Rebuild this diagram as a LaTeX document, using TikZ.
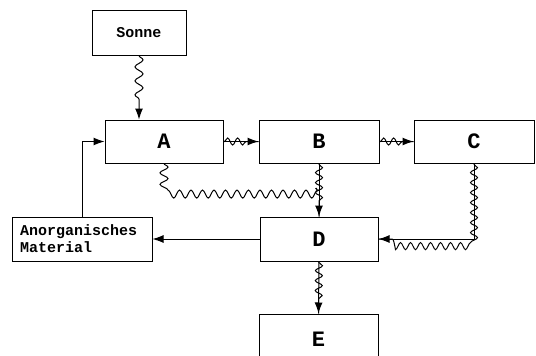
\documentclass[tikz,border=0pt]{standalone}
\usepackage{fontspec}
\setmonofont{Liberation Mono}
\usetikzlibrary{decorations.pathmorphing,arrows.meta}

\begin{document}
\begin{tikzpicture}[
  x=1pt, y=-1pt,
  box/.style={rectangle, draw, line width=1pt, minimum height=43pt, inner sep=0pt,
              font=\ttfamily\bfseries\fontsize{22}{24}\selectfont},
  sbox/.style={box, font=\ttfamily\bfseries\fontsize{15}{17}\selectfont},
  arr/.style={-{Latex[length=11pt,width=8pt]}, line width=1pt},
  wave/.style={postaction={draw, -, decorate,
              decoration={snake, amplitude=3.5pt, segment length=10pt,
                          pre length=1pt, post length=11pt}}}
]
\clip (0,0) rectangle (536,356);
\useasboundingbox (0,0) rectangle (536,356);

\node[sbox, minimum width=94pt, minimum height=45pt] (sonne) at (139,32.5) {Sonne};
\node[box, minimum width=118pt] (a) at (164,141.5) {A};
\node[box, minimum width=120pt] (b) at (319,141.5) {B};
\node[box, minimum width=120pt] (c) at (474,141.5) {C};
\node[box, minimum width=118pt, minimum height=44pt] (d) at (319,239) {D};
\node[box, minimum width=119pt, minimum height=50pt] (e) at (318.5,339) {E};
\node[sbox, minimum width=140pt, minimum height=44pt, text width=124pt,
      align=left] (anorg) at (82,239) {Anorganisches\\Material};

\coordinate (join) at (319,190);

% Sonne zu A
\draw[-{Latex[length=11pt,width=8pt]}, line width=1pt, decorate,
      decoration={snake, amplitude=4pt, segment length=14pt, post length=16pt}]
  (sonne.south) -- (sonne.south |- a.north);
\draw[arr] (anorg.north) |- (a.west);
\draw[arr, wave] (a) -- (b);
\draw[arr, wave] (b) -- (c);
\draw[line width=1pt, decorate,
      decoration={snake, amplitude=4pt, segment length=11.5pt}]
  (a.south) |- (join);
\draw[arr, wave] (b.south) -- (d.north);
\draw[arr, wave] (c.south) |- (d.east);
\draw[arr] (d.west) -- (anorg.east);
\draw[arr, wave] (d.south) -- (e.north);
\end{tikzpicture}
\end{document}
